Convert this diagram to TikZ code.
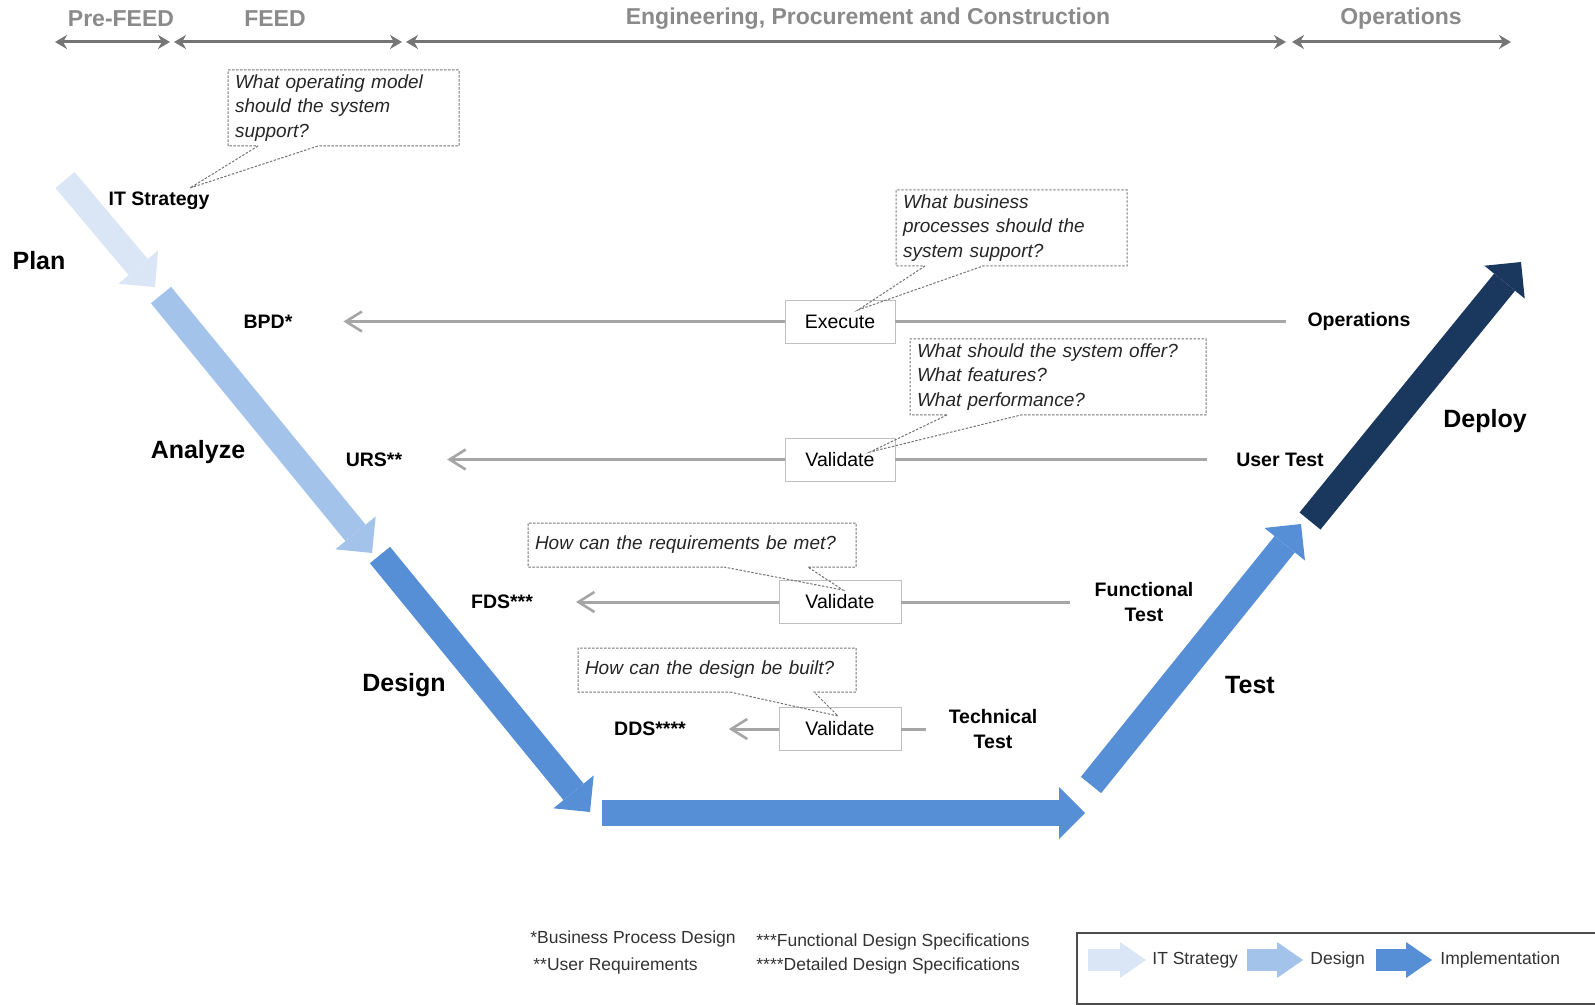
\documentclass[tikz,border=0pt]{standalone}
\usepackage{fontspec}
\setmainfont{Liberation Sans}
\usetikzlibrary{arrows.meta,shapes.callouts,positioning}
\definecolor{stratblue}{HTML}{DAE6F6}
\definecolor{designblue}{HTML}{A4C3EA}
\definecolor{implblue}{HTML}{578FD6}
\definecolor{deployblue}{HTML}{1A375E}
\definecolor{rowgray}{HTML}{A6A6A6}
\definecolor{headgray}{HTML}{8A8A8A}
\tikzset{
  phase/.style = {font=\fontsize{11.5}{14}\selectfont\bfseries, text=headgray},
  span/.style = {draw=headgray!85!black, line width=1.5pt,
    {Stealth[length=6pt,width=7pt]}-{Stealth[length=6pt,width=7pt]}},
  stage/.style = {font=\fontsize{12.5}{15}\selectfont\bfseries},
  doc/.style = {font=\fontsize{9.75}{12.5}\selectfont\bfseries, align=center},
  check/.style = {draw=black!25, fill=white, font=\fontsize{9.75}{12}\selectfont,
    minimum height=21.5pt, inner sep=0pt},
  rowline/.style = {draw=rowgray, line width=1.5pt},
  rowarrow/.style = {rowline, -{Straight Barb[length=8pt,width=10pt,line width=1.3pt]}},
  question/.style = {rectangle callout, draw=black!55, dash pattern=on 1.2pt off 0.8pt,
    line width=0.5pt, align=left, font=\fontsize{9.5}{12.25}\selectfont\itshape,
    text=black!85, inner xsep=3.5pt, inner ysep=0pt},
  vee/.style = {color=#1, line width=13pt,
    -{Triangle[length=13pt,width=26pt,line width=0pt]}},
  key/.style = {color=#1, line width=11pt,
    -{Triangle[length=13pt,width=18pt,line width=0pt]}},
  note/.style = {font=\fontsize{8.75}{10}\selectfont, text=black!80, anchor=west, inner sep=0pt},
}

\begin{document}
\begin{tikzpicture}[x=0.5pt, y=-0.5pt]
\clip (0,0) rectangle (1595,1005);

% project phases
\node[phase] (prefeed) at (121,19) {Pre-FEED};
\node[phase] (feed) at (275,19) {FEED};
\node[phase] (epc) at (868,19) {Engineering, Procurement and Construction};
\node[phase] (operation) at (1401,19) {Operations};
\foreach \a/\b in {55/170, 174/402, 406/1286, 1292/1511}
  \draw[span] (\a,42) -- (\b,42);

% the V
\draw[vee=stratblue, line width=12.5pt] (65,180) -- (155,287);
\draw[vee=designblue] (161,295) -- (372,553);
\draw[vee=implblue] (380,555) -- (590,812);
\draw[vee=implblue] (602,813) -- (1085,813);
\draw[vee=implblue] (1091,785) -- (1301,524);
\draw[vee=deployblue, line width=13.5pt] (1310,521) -- (1521,262);

\node[stage] (plan) at (39,261) {Plan};
\node[stage] (analyze) at (198,452) {Analyze};
\node[stage] (design) at (404,685) {Design};
\node[stage] (test) at (1250,685) {Test};
\node[stage] (deploy) at (1485,421) {Deploy};
\node[doc] (itstrat) at (159,201) {IT Strategy};

% rows
\node[check, minimum width=55pt] (execute) at (840,321.5) {Execute};
\node[doc] (bpd) at (268,321.5) {BPD*};
\node[doc] (ops) at (1359,321.5) {Operations};
\draw[rowarrow, shorten >=22pt] (execute) -- (bpd);
\draw[rowline, shorten >=7pt] (execute) -- (ops);

\node[check, minimum width=55pt] (valurs) at (840,459.5) {Validate};
\node[doc] (urs) at (374,459.5) {URS**};
\node[doc] (usertest) at (1280,459.5) {User Test};
\draw[rowarrow, shorten >=19pt] (valurs) -- (urs);
\draw[rowline, shorten >=11pt] (valurs) -- (usertest);

\node[check, minimum width=61pt] (valfds) at (840,602) {Validate};
\node[doc] (fds) at (502,602) {FDS***};
\node[doc] (functest) at (1144,602) {Functional\\Test};
\draw[rowarrow, shorten >=18pt] (valfds) -- (fds);
\draw[rowline, shorten >=9pt] (valfds) -- (functest);

\node[check, minimum width=61pt] (valdds) at (840,729) {Validate};
\node[doc] (dds) at (650,729) {DDS****};
\node[doc] (techtest) at (993,729) {Technical\\Test};
\draw[rowarrow, shorten >=18pt] (valdds) -- (dds);
\draw[rowline, shorten >=8pt] (valdds) -- (techtest);

% questions
\coordinate (q1tip) at (190,188);
\coordinate (q2tip) at (858,310);
\coordinate (q3tip) at (870,452);
\coordinate (q4tip) at (843,590);
\coordinate (q5tip) at (838,716);
\node[question, text width=108.5pt, minimum height=38pt, callout pointer width=30pt,
  callout absolute pointer={(q1tip)}] (q1) at (343.5,108)
  {What operating model\\should the system\\support?};
\node[question, text width=108.5pt, minimum height=38pt, callout pointer width=29pt,
  callout absolute pointer={(q2tip)}] (q2) at (1011.5,228)
  {What business\\processes should the\\system support?};
\node[question, text width=141pt, minimum height=38pt, callout pointer width=37pt,
  callout absolute pointer={(q3tip)}] (q3) at (1058,377)
  {What should the system offer?\\What features?\\What performance?};
\node[question, text width=157pt, minimum height=22pt, callout pointer width=42pt,
  callout absolute pointer={(q4tip)}] (q4) at (692,545)
  {How can the requirements be met?};
\node[question, text width=132pt, minimum height=22pt, callout pointer width=42pt,
  callout absolute pointer={(q5tip)}] (q5) at (717,670)
  {How can the design be built?};

% footnotes
\node[note] (fn1) at (530,939) {*Business Process Design};
\node[note] (fn2) at (533,966) {**User Requirements};
\node[note] (fn3) at (756,942) {***Functional Design Specifications};
\node[note] (fn4) at (756,966) {****Detailed Design Specifications};

% legend
\node[draw=black!70, line width=1pt, minimum width=262pt, minimum height=35.5pt,
  anchor=north west] (legend) at (1076,932) {};
\draw[key=stratblue] (1088,960) -- (1146,960) coordinate (keyA);
\draw[key=designblue] (1247,960) -- (1303,960) coordinate (keyB);
\draw[key=implblue] (1376,960) -- (1432,960) coordinate (keyC);
\node[note, right=3pt of keyA] (keyAtext) {IT Strategy};
\node[note, right=3.5pt of keyB] (keyBtext) {Design};
\node[note, right=4pt of keyC] (keyCtext) {Implementation};
\end{tikzpicture}
\end{document}
